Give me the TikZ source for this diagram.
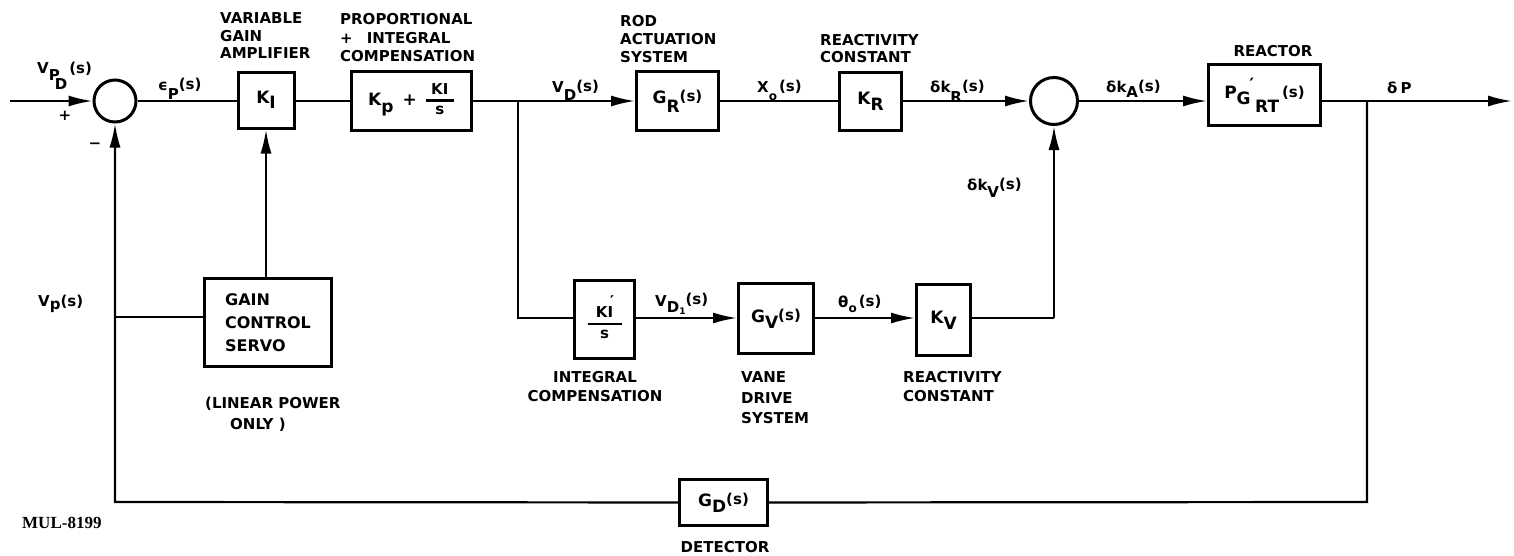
\documentclass[tikz,border=0pt]{standalone}
\usepackage{fontspec}
\setmainfont{DejaVu Sans}[BoldFont={DejaVu Sans Bold}]
\newfontfamily\serifb{Liberation Serif}[BoldFont={Liberation Serif Bold}]
\usetikzlibrary{arrows.meta}
\newcommand\sm{\fontsize{15}{15}\selectfont}
\newcommand\lo[2][7pt]{\raisebox{-#1}{#2}}
\newcommand\sa[1][3pt]{\raisebox{#1}{\sm(s)}}
\newcommand\fr[3][30pt]{{\setlength\arrayrulewidth{2.2pt}\setlength\tabcolsep{0pt}\renewcommand\arraystretch{0.85}\begin{tabular}[c]{c}#2\\\hline\noalign{\vskip1pt}\makebox[#1]{#3}\end{tabular}}}
\begin{document}
\begin{tikzpicture}[x=1pt,y=-1pt,
 wire/.style={line width=2.2pt},
 arr/.style={wire,-{Latex[length=24pt,width=11pt]}},
 blk/.style={draw,line width=3pt,inner sep=0pt,font=\fontsize{17}{20}\selectfont\bfseries},
 sum/.style={circle,draw,line width=3pt,inner sep=0pt},
 ttl/.style={inner sep=0pt,font=\fontsize{15}{18}\selectfont\bfseries},
 sig/.style={inner sep=0pt,anchor=base west,font=\fontsize{15}{18}\selectfont\bfseries}]
\useasboundingbox (0,0) rectangle (1514,555);

% summing junctions
\node[sum,minimum size=42pt] (c1) at (115,101) {};
\node[sum,minimum size=47pt] (c2) at (1054,101) {};

% blocks
\node[blk,minimum width=56pt,minimum height=56pt] (k1) at (266,100) {K\lo[5pt]{I}};
\node[blk,minimum width=120pt,minimum height=59pt] (pi) at (411,101) {K\lo[7pt]{p}\hspace{9pt}+\hspace{9pt}\fr[28pt]{\fontsize{15}{15}\selectfont KI}{\fontsize{15}{15}\selectfont s}};
\node[blk,minimum width=82pt,minimum height=59pt] (gr) at (677.5,101) {G\lo[9pt]{R}\sa[2pt]};
\node[blk,minimum width=62pt,minimum height=58pt] (kr) at (870.5,101) {K\lo[6pt]{R}};
\node[blk,minimum width=112pt,minimum height=61pt] (rx) at (1264.5,95) {P\lo[6pt]{G}\kern-1pt\raisebox{8pt}{′}\kern1pt\lo[14pt]{RT}\kern3pt\sa[1pt]};
\node[blk,minimum width=127pt,minimum height=88pt,align=left,font=\fontsize{16}{23}\selectfont\bfseries] (gcs) at (268,322.5) {GAIN\\CONTROL\\SERVO};
\node[blk,minimum width=60pt,minimum height=78pt] (ki) at (604.5,319.5) {\fr[34pt]{\fontsize{15}{15}\selectfont KI\llap{\raisebox{11pt}{′}\kern-1pt}}{\fontsize{15}{15}\selectfont s}};
\node[blk,minimum width=75pt,minimum height=70pt] (gv) at (776,318.5) {G\lo[6pt]{V}\sa[2pt]};
\node[blk,minimum width=54pt,minimum height=71pt] (kv) at (943.5,320) {K\lo[6pt]{V}};
\node[blk,minimum width=88pt,minimum height=46pt] (gd) at (723.5,502.5) {G\lo[6pt]{D}\sa[2pt]};

% coordinates
\coordinate (in) at (10,101);
\coordinate (b1) at (518,101);
\coordinate (b1d) at (518,318);
\coordinate (b2) at (1367,101);
\coordinate (out) at (1512,101);
\coordinate (b2d) at (1367,502);
\coordinate (bl) at (115,502);
\coordinate (gj) at (115,317);
\coordinate (vr) at (1054,318);

% connectors
\draw[arr] (in) -- (c1.west);
\draw[wire] (c1.east) -- (k1.west |- c1.east);
\draw[wire] (k1.east |- c1.east) -- (pi.west |- c1.east);
\draw[wire] (pi.east) -- (b1);
\draw[arr] (b1) -- (gr.west);
\draw[wire] (gr) -- (kr);
\draw[arr] (kr) -- (c2);
\draw[arr] (c2.east) -- (c2.east -| rx.west);
\draw[arr] (c2.east -| rx.east) -- (out);
\draw[wire] (b2) -- (b2d) -- (gd);
\draw[arr] (gd) -- (bl) -- (c1.south);
\draw[wire] (gj) -- (gj -| gcs.west);
\draw[arr] (gcs.north -| k1) -- (k1.south);
\draw[wire] (b1) -- (b1d) -- (ki.west |- b1d);
\draw[arr] (ki.east |- b1d) -- (gv.west |- b1d);
\draw[arr] (gv.east |- b1d) -- (kv.west |- b1d);
\draw[wire] (kv.east |- b1d) -- (vr);
\draw[arr] (vr) -- (c2.south);

% signal labels
\node[sig] (lvpd) at (37,73) {V\lo[7pt]{P}\kern-5pt\lo[16pt]{D}\kern2pt\sa[0pt]};
\node[ttl] (plus) at (65,116) {+};
\node[ttl] (minus) at (95,146) {−};
\node[sig] (leps) at (158,90) {ϵ\lo[9pt]{P}\sa[1pt]};
\node[sig] (lvd) at (552,92) {V\lo[8pt]{D}\sa[1pt]};
\node[sig] (lxo) at (757,92) {X\lo[8pt]{\fontsize{12}{12}\selectfont o}\kern2pt\sa[1pt]};
\node[sig] (ldkr) at (930,92) {δk\lo[10pt]{R}\sa[1pt]};
\node[sig] (ldka) at (1106,92) {δk\lo[5pt]{A}\sa[1pt]};
\node[sig] (ldp) at (1387,93) {δ\kern3pt P};
\node[sig] (ldkv) at (967,190) {δk\lo[7pt]{V}\sa[1pt]};
\node[sig] (lvp) at (38,306) {V\lo[3pt]{p}\sa[0pt]};
\node[sig] (lvd1) at (655,306) {V\lo[6pt]{D\lo[2pt]{\fontsize{9}{9}\selectfont 1}}\sa[2pt]};
\node[sig] (lth) at (838,307) {θ\lo[5pt]{\fontsize{12}{12}\selectfont o}\kern2pt\sa[1pt]};

% titles
\node[ttl,anchor=north west,align=left,font=\fontsize{15}{17.5}\selectfont\bfseries] (tvga) at (220,12.5) {VARIABLE\\GAIN\\AMPLIFIER};
\node[ttl,anchor=north west,align=left,font=\fontsize{15}{18.5}\selectfont\bfseries] (tpi) at (340,13.5) {PROPORTIONAL\\+\hspace{14pt}INTEGRAL\\COMPENSATION};
\node[ttl,anchor=north west,align=left,font=\fontsize{15}{18}\selectfont\bfseries] (trod) at (620,15.5) {ROD\\ACTUATION\\SYSTEM};
\node[ttl,anchor=north west,align=left,font=\fontsize{15}{17}\selectfont\bfseries] (trc1) at (820,34.5) {REACTIVITY\\CONSTANT};
\node[ttl] (trx) at (1273,51) {REACTOR};
\node[ttl,anchor=north,align=center,font=\fontsize{15}{19}\selectfont\bfseries] (tic) at (595,371.5) {INTEGRAL\\COMPENSATION};
\node[ttl,anchor=north west,align=left,font=\fontsize{15}{20.5}\selectfont\bfseries] (tvd) at (741,371.5) {VANE\\DRIVE\\SYSTEM};
\node[ttl,anchor=north west,align=left,font=\fontsize{15}{19}\selectfont\bfseries] (trc2) at (903,371.5) {REACTIVITY\\CONSTANT};
\node[ttl,anchor=north west,align=left,font=\fontsize{15}{21}\selectfont\bfseries] (tlp) at (205,396.5) {(LINEAR POWER\\\hspace*{25pt}ONLY )};
\node[ttl] (tdet) at (725,547) {DETECTOR};
\node[inner sep=0pt,anchor=base west,font=\serifb\fontsize{17}{17}\selectfont\bfseries] (mul) at (22,528) {MUL-8199};
\end{tikzpicture}
\end{document}
